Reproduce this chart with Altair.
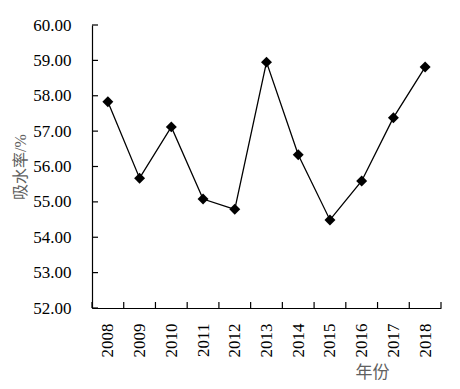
import altair as alt
import pandas as pd

years = [2008, 2009, 2010, 2011, 2012, 2013, 2014, 2015, 2016, 2017, 2018]
values = [57.83, 55.67, 57.12, 55.08, 54.79, 58.95, 56.33, 54.49, 55.59, 57.38, 58.81]
y_ticks = [52, 53, 54, 55, 56, 57, 58, 59, 60]
x_title = "年份"
y_title = "吸水率/%"

df = pd.DataFrame({"year": years, "value": values})
bounds = pd.DataFrame({"b": [y - 0.5 for y in years] + [years[-1] + 0.5]})
yt = pd.DataFrame({"v": y_ticks})

x0 = years[0] - 0.5
xscale = alt.Scale(domain=[x0, years[-1] + 0.5], nice=False, zero=False)
yscale = alt.Scale(domain=[y_ticks[0], y_ticks[-1]], nice=False, zero=False)

font = "Liberation Serif"
cjk = "Liberation Serif, Noto Sans CJK SC"

xaxis = alt.Axis(values=years, format="d", labelAngle=-90, tickSize=0, grid=False,
                 domainColor="black", domainWidth=1.2, labelPadding=15, labelFont=font,
                 labelFontSize=17, labelColor="black", labelOverlap=False,
                 title=x_title, titleFont=cjk,
                 titleFontSize=17, titleFontWeight="normal", titleColor="#606060",
                 titleX=280, titleY=64, titleAlign="center", titleBaseline="middle",
                 titleAngle=0)
yaxis = alt.Axis(values=y_ticks, format=".2f", tickSize=0, grid=False,
                 domainColor="black", domainWidth=1.2, labelPadding=21, labelFont=font,
                 labelFontSize=17, labelColor="black", labelOverlap=False,
                 title=y_title, titleFont=cjk,
                 titleFontSize=16, titleFontWeight="normal", titleColor="#606060",
                 titleX=-72, titleY=141.5, titleAlign="center", titleBaseline="middle",
                 titleAngle=-90)

line = alt.Chart(df).mark_line(color="black", strokeWidth=1.3).encode(
    x=alt.X("year:Q", scale=xscale, axis=xaxis),
    y=alt.Y("value:Q", scale=yscale, axis=yaxis),
)
points = alt.Chart(df).mark_point(shape="diamond", filled=True, size=120,
                                  color="black", opacity=1).encode(
    x=alt.X("year:Q", scale=xscale, axis=xaxis),
    y=alt.Y("value:Q", scale=yscale, axis=yaxis),
)
xticks = alt.Chart(bounds).mark_rule(color="black", strokeWidth=1.2, y2Offset=-6).encode(
    x=alt.X("b:Q", scale=xscale, axis=xaxis),
    y=alt.Y(datum=y_ticks[0], scale=yscale, axis=yaxis),
    y2=alt.Y2(datum=y_ticks[0]),
)
yticks = alt.Chart(yt).mark_rule(color="black", strokeWidth=1.2, x2Offset=6).encode(
    y=alt.Y("v:Q", scale=yscale, axis=yaxis),
    x=alt.X(datum=x0, scale=xscale, axis=xaxis),
    x2=alt.X2(datum=x0),
)

chart = alt.layer(line, points, xticks, yticks).properties(
    width=349, height=283,
    autosize=alt.AutoSizeParams(type="none"),
    padding={"left": 84, "top": 17, "right": 10, "bottom": 80},
    background="white",
).configure_view(stroke=None)

chart.save("out.html", embed_options={"renderer": "svg", "actions": False})
